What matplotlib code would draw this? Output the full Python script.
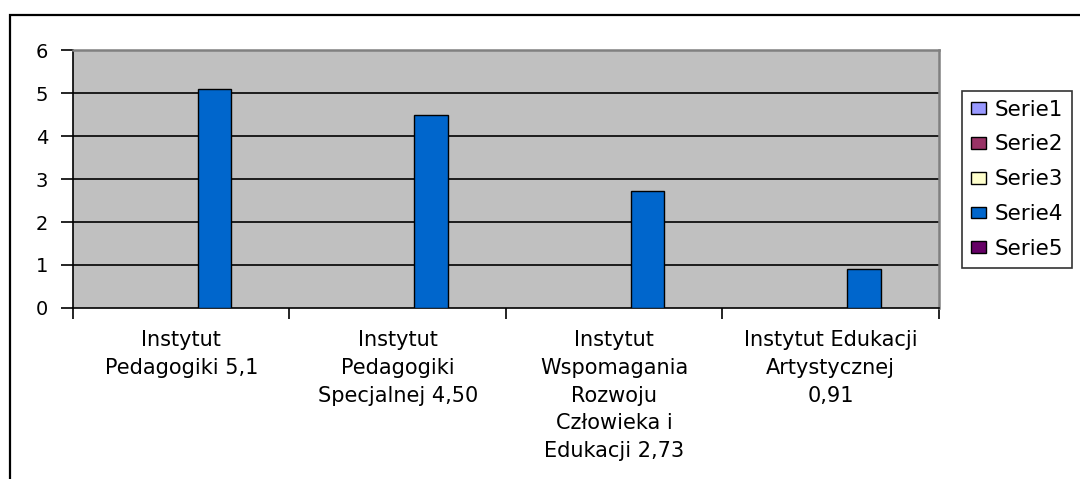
import matplotlib
matplotlib.use("Agg")
import numpy as np
import matplotlib.pyplot as plt
from matplotlib.patches import Patch, Rectangle

# data
categories = [
    "Instytut\nPedagogiki 5,1",
    "Instytut\nPedagogiki\nSpecjalnej 4,50",
    "Instytut\nWspomagania\nRozwoju\nCzłowieka i\nEdukacji 2,73",
    "Instytut Edukacji\nArtystycznej\n0,91",
]
series_names = ["Serie1", "Serie2", "Serie3", "Serie4", "Serie5"]
series_colors = ["#9999FF", "#993366", "#FFFFCC", "#0066CC", "#660066"]
serie4 = [5.1, 4.5, 2.73, 0.91]

plt.rcParams['font.family'] = ['DejaVu Sans']

fig = plt.figure(figsize=(10.8, 4.79), dpi=100)
ax = fig.add_axes([0.0676, 0.357, 0.8018, 0.5386])
ax.set_facecolor("#C0C0C0")

x = np.arange(len(categories))
w = 1 / 6.5
ax.bar(x + w, serie4, width=w, color=series_colors[3], edgecolor="black",
       linewidth=1.0, zorder=3)

ax.set_xlim(-0.5, len(categories) - 0.5)
ax.set_ylim(0, 6)
ax.set_yticks(range(0, 7))
for yv in range(1, 6):
    ax.axhline(yv, color="black", lw=1.2, zorder=2)

# category boundaries as major ticks, labels on minor ticks
ax.set_xticks(np.arange(-0.5, len(categories), 1.0))
ax.set_xticklabels([])
ax.set_xticks(x, minor=True)
ax.set_xticklabels(categories, minor=True, fontsize=15, linespacing=1.48)
ax.tick_params(axis="x", which="major", direction="out", length=8, width=1.2)
ax.tick_params(axis="x", which="minor", length=0, pad=16)
ax.tick_params(axis="y", direction="out", length=9, width=1.2, labelsize=14, pad=9)

for s in ["top", "right"]:
    ax.spines[s].set_color("#808080")
    ax.spines[s].set_linewidth(1.8)
for s in ["left", "bottom"]:
    ax.spines[s].set_color("black")
    ax.spines[s].set_linewidth(1.2)

handles = [Patch(facecolor=c, edgecolor="black", linewidth=1.0) for c in series_colors]
leg = fig.legend(handles, series_names, loc="upper left",
                 bbox_to_anchor=(962 / 1080, 1 - 91 / 479), bbox_transform=fig.transFigure,
                 borderaxespad=0, fontsize=15.5, frameon=True, fancybox=False,
                 labelspacing=0.69, handlelength=0.7, handleheight=0.47,
                 handletextpad=0.42, borderpad=0.4)
leg.get_frame().set_edgecolor("black")
leg.get_frame().set_linewidth(1.2)

# outer chart border
fig.add_artist(Rectangle((9.5 / 1080, -0.1), 1.2, 1 - 15 / 479 + 0.1,
                         transform=fig.transFigure, fill=False,
                         edgecolor="black", linewidth=1.6, clip_on=False))

fig.savefig("out.png", dpi=100)
